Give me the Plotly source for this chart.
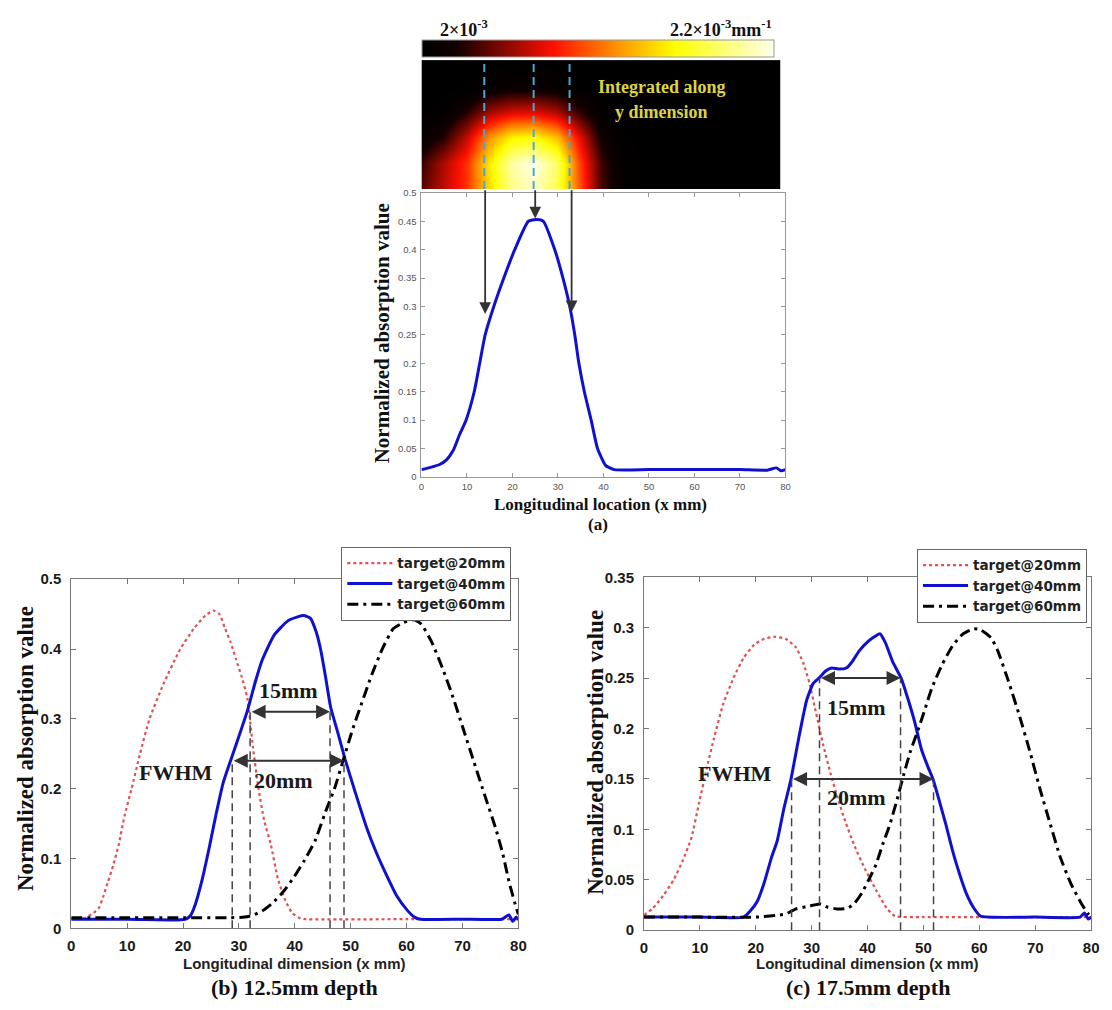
import plotly.graph_objects as go

W, H = 1112, 1010


def px_x(p):
    return p / W


def px_y(p):
    return 1 - p / H


# ---------------- data ----------------
# panel (a): heat map of absorption (normalised), x in mm, y = relative height
heat_x = [0, 5, 10, 15, 20, 25, 30, 35, 40, 45, 50, 55, 60, 65, 70, 75, 80]
heat_y = [0, 0.2, 0.4, 0.6, 0.8, 1.0]
heat_z = [
    [0.18, 0.3, 0.42, 0.66, 0.88, 0.95, 0.82, 0.48, 0.16, 0.03, 0, 0, 0, 0, 0, 0, 0],
    [0.14, 0.28, 0.42, 0.68, 0.92, 1.0, 0.85, 0.46, 0.15, 0.03, 0, 0, 0, 0, 0, 0, 0],
    [0.04, 0.12, 0.3, 0.55, 0.7, 0.72, 0.62, 0.36, 0.08, 0.01, 0, 0, 0, 0, 0, 0, 0],
    [0, 0.02, 0.12, 0.26, 0.33, 0.34, 0.28, 0.14, 0.02, 0, 0, 0, 0, 0, 0, 0, 0],
    [0, 0, 0, 0.03, 0.05, 0.05, 0.03, 0, 0, 0, 0, 0, 0, 0, 0, 0, 0],
    [0, 0, 0, 0, 0, 0, 0, 0, 0, 0, 0, 0, 0, 0, 0, 0, 0],
]
probe_x = [14, 25, 33]
probe_tip_y = [0.287, 0.455, 0.29]

a_x = [0, 2, 4, 5.5, 7, 8.3, 9.8, 11.6, 12.8, 14.0, 15.9, 18.1, 20.5, 23.5, 25.3, 26.8,
       29.3, 31.1, 32.6, 33.7, 34.6, 35.8, 37.3, 38.7, 40.5, 42.4, 50, 60, 70, 76, 78, 79, 80]
a_y = [0.013, 0.017, 0.022, 0.03, 0.047, 0.073, 0.1, 0.15, 0.2, 0.25, 0.3, 0.35, 0.4, 0.45, 0.453, 0.45,
       0.4, 0.35, 0.3, 0.25, 0.2, 0.15, 0.1, 0.05, 0.02, 0.013, 0.013, 0.013, 0.013, 0.012, 0.016, 0.011, 0.013]

# panel (b): 12.5 mm depth
b20_x = [0, 2.5, 4, 5, 5.7, 6.5, 7.5, 8.5, 9.5, 10.8, 12.3, 14, 16.5, 19.5, 22, 24, 25.5,
         26.5, 27.5, 28.5, 29.5, 30.5, 31.5, 32.5, 33.5, 34.5, 35.7, 37, 38.3, 39.5, 41, 42, 60, 80]
b20_y = [0.013, 0.015, 0.022, 0.03, 0.045, 0.065, 0.09, 0.12, 0.16, 0.2, 0.25, 0.3, 0.35, 0.4, 0.43, 0.448, 0.455,
         0.45, 0.43, 0.41, 0.385, 0.36, 0.33, 0.26, 0.2, 0.155, 0.12, 0.07, 0.04, 0.022, 0.014, 0.013, 0.013, 0.013]

b40_x = [0, 10, 19, 20.5, 21.3, 22.1, 23.4, 24.7, 25.9, 27.2, 28.5, 30, 31.6, 33, 34.2, 36.3, 38.7, 40.5,
         41.6, 42.8, 43.8, 44.6, 45.5, 46.4, 47.7, 49, 50.8, 52.9, 54.5, 56.3, 58.2, 60.1, 61.4, 62.5,
         70, 77, 78.3, 79, 79.6, 80]
b40_y = [0.013, 0.013, 0.012, 0.013, 0.018, 0.032, 0.069, 0.116, 0.163, 0.209, 0.24, 0.275, 0.314, 0.355, 0.385, 0.42, 0.44, 0.446,
         0.448, 0.444, 0.425, 0.4, 0.36, 0.317, 0.28, 0.242, 0.195, 0.143, 0.11, 0.078, 0.047, 0.026, 0.016, 0.013,
         0.013, 0.013, 0.019, 0.01, 0.016, 0.012]

b60_x = [0, 10, 20, 28, 31, 32.3, 34.2, 36, 38, 39.9, 41.7, 43.6, 45.5, 47.1, 48.7, 50.3, 51.9, 53.8, 55.7,
         57.6, 59.5, 61.4, 62.6, 64.5, 66.4, 68.3, 70.2, 72.1, 74, 75.9, 77.2, 78.4, 79.7, 80]
b60_y = [0.015, 0.015, 0.015, 0.015, 0.016, 0.018, 0.025, 0.036, 0.053, 0.074, 0.097, 0.125, 0.167, 0.2, 0.242, 0.284, 0.321, 0.364, 0.401,
         0.429, 0.438, 0.442, 0.436, 0.41, 0.373, 0.331, 0.284, 0.237, 0.19, 0.144, 0.107, 0.064, 0.027, 0.02]

b_fwhm_x = [28.8, 48.8]
b_fwhm_y = 0.24
b_15_x = [32.0, 46.3]
b_15_y = 0.31

# panel (c): 17.5 mm depth
c20_x = [0, 1.6, 3.4, 5.3, 7, 8.5, 9.8, 11.2, 12.5, 14.2, 16, 17.8, 19.7, 21.5, 23.4, 25.3, 27.1, 28.5,
         29.6, 30.8, 32, 33.4, 34.6, 36, 37.7, 39.6, 41.5, 43.4, 44.9, 50, 60, 70, 80]
c20_y = [0.015, 0.022, 0.034, 0.05, 0.07, 0.092, 0.125, 0.16, 0.19, 0.225, 0.25, 0.27, 0.283, 0.289, 0.291, 0.289, 0.281, 0.265,
         0.245, 0.215, 0.185, 0.155, 0.132, 0.108, 0.083, 0.06, 0.04, 0.022, 0.014, 0.013, 0.013, 0.013, 0.013]

c40_x = [0, 10, 17.8, 19, 20.3, 21.5, 22.8, 23.8, 25, 26.3, 27.7, 29.1, 30.3, 31.3, 32.5, 33.6, 34.8, 36.2,
         37.2, 38.5, 40, 41.2, 42.2, 43.2, 44.5, 46, 47.3, 48.5, 49.6, 50.8, 51.7, 52.7, 54, 55.2, 56.5,
         57.7, 59, 60.2, 70, 78, 78.8, 79.5, 80]
c40_y = [0.013, 0.013, 0.013, 0.019, 0.029, 0.047, 0.072, 0.088, 0.12, 0.15, 0.191, 0.228, 0.245, 0.25, 0.257, 0.26, 0.259, 0.26,
         0.266, 0.277, 0.286, 0.291, 0.294, 0.285, 0.266, 0.25, 0.228, 0.205, 0.18, 0.162, 0.15, 0.131, 0.105, 0.079, 0.055,
         0.036, 0.022, 0.014, 0.013, 0.013, 0.017, 0.011, 0.013]

c60_x = [0, 10, 20, 25.3, 27.1, 29.6, 31.5, 32.8, 34.6, 36.5, 37.7, 39, 40.2, 41.5, 42.7, 44, 45.2, 46.5, 47.7,
         49, 50.2, 51.5, 53.3, 55.2, 57.1, 59, 60.2, 62.1, 63.3, 65.2, 67.1, 69, 70.8, 72.7, 74.5, 76.4, 78.3, 79.5, 80]
c60_y = [0.013, 0.013, 0.013, 0.016, 0.021, 0.024, 0.026, 0.023, 0.021, 0.022, 0.027, 0.037, 0.05, 0.065, 0.085, 0.105, 0.128, 0.155, 0.178,
         0.198, 0.218, 0.24, 0.263, 0.282, 0.294, 0.299, 0.298, 0.29, 0.277, 0.247, 0.214, 0.178, 0.141, 0.105, 0.072, 0.046, 0.026, 0.016, 0.013]

c_fwhm_x = [26.4, 51.8]
c_fwhm_y = 0.15
c_15_x = [31.4, 45.9]
c_15_y = 0.25

series_names = ["target@20mm", "target@40mm", "target@60mm"]

# ---------------- styles ----------------
SERIF = "Liberation Serif, Times New Roman, serif"
SANS = "Liberation Sans, Arial, sans-serif"
RED = "#e05050"
BLUE = "#1010d0"
hot = [[0, "#000000"], [0.1, "#120000"], [0.375, "#ff1000"], [0.55, "#ff9000"],
       [0.72, "#ffff00"], [1, "#ffffea"]]

fig = go.Figure()

# heatmap (a)
fig.add_trace(go.Heatmap(
    x=heat_x, y=heat_y, z=heat_z, zmin=0, zmax=1, zsmooth="best", colorscale=hot,
    xaxis="x2", yaxis="y2", hoverinfo="skip",
    colorbar=dict(orientation="h", x=px_x(423), xanchor="left", y=px_y(32), yanchor="top",
                  yref="paper", len=352, lenmode="pixels", thickness=17, thicknessmode="pixels",
                  xpad=0, ypad=0, outlinewidth=1, outlinecolor="#999", showticklabels=False,
                  ticks="")))

SPL = dict(shape="spline", smoothing=0.5)

# (a) line
fig.add_trace(go.Scatter(x=a_x, y=a_y, mode="lines", line=dict(color=BLUE, width=3, **SPL),
                         xaxis="x", yaxis="y", showlegend=False))

line_styles = [dict(color=RED, width=2.2, dash="dot", **SPL),
               dict(color=BLUE, width=3, **SPL),
               dict(color="#000000", width=3, dash="11px,5px,3px,5px", **SPL)]

for nm, xs, ys, st in zip(series_names, [b20_x, b40_x, b60_x], [b20_y, b40_y, b60_y], line_styles):
    fig.add_trace(go.Scatter(x=xs, y=ys, mode="lines", name=nm, line=st,
                             xaxis="x3", yaxis="y3", legend="legend"))
for nm, xs, ys, st in zip(series_names, [c20_x, c40_x, c60_x], [c20_y, c40_y, c60_y], line_styles):
    fig.add_trace(go.Scatter(x=xs, y=ys, mode="lines", name=nm, line=st,
                             xaxis="x4", yaxis="y4", legend="legend2"))


def axis(dom, rng, dtick, anchor, font, lc="#777", ticklen=5, standoff=2):
    return dict(domain=dom, range=rng, dtick=dtick, tick0=0, anchor=anchor, showgrid=False,
                zeroline=False, showline=True, mirror="allticks", linecolor=lc, linewidth=1,
                ticks="inside", ticklen=ticklen, tickcolor=lc, tickfont=font, fixedrange=True,
                ticklabelstandoff=standoff)


font_a = dict(family=SANS, size=9.5, color="#555")
font_bc = dict(family=SANS, size=15, color="#1a1a1a", weight="bold")

layout_axes = dict(
    xaxis=axis([px_x(422), px_x(790)], [0, 80], 10, "y", font_a, "#999", 4, 1),
    yaxis=axis([px_y(476), px_y(187)], [0, 0.5], 0.05, "x", font_a, "#999", 4, 2),
    xaxis2=dict(domain=[px_x(422), px_x(785)], range=[0, 80], visible=False, anchor="y2", fixedrange=True),
    yaxis2=dict(domain=[px_y(183), px_y(52)], range=[0, 1], visible=False, anchor="x2", fixedrange=True),
    xaxis3=axis([px_x(68), px_x(520)], [0, 80], 10, "y3", font_bc, standoff=4),
    yaxis3=axis([px_y(935), px_y(580)], [0, 0.5], 0.1, "x3", font_bc, standoff=6),
    xaxis4=axis([px_x(647), px_x(1099)], [0, 80], 10, "y4", font_bc, standoff=4),
    yaxis4=axis([px_y(937), px_y(578)], [0, 0.35], 0.05, "x4", font_bc, standoff=6),
)

shapes = []
# probe lines in heat map
for px_ in probe_x:
    shapes.append(dict(type="line", xref="x2", yref="y2", x0=px_, x1=px_, y0=0, y1=1,
                       line=dict(color="#48a8d0", width=2, dash="8px,5px")))

annotations = []
# probe arrows in (a)
for px_, ty in zip(probe_x, probe_tip_y):
    annotations.append(dict(x=px_, y=ty, ax=px_, ay=0.507, xref="x", yref="y", axref="x", ayref="y",
                            text="", showarrow=True, arrowhead=2, arrowsize=1.3, arrowwidth=1.8,
                            arrowcolor="#333"))


def fwhm(xr, yr, fw_x, fw_y, q_x, q_y, txt15, txt20, txtF):
    for xv, yv in [(fw_x[0], fw_y), (q_x[0], q_y), (q_x[1], q_y), (fw_x[1], fw_y)]:
        shapes.append(dict(type="line", xref=xr, yref=yr, x0=xv, x1=xv, y0=0, y1=yv,
                           line=dict(color="#444", width=1.5, dash="8px,5px")))
    for xs, yv in [(fw_x, fw_y), (q_x, q_y)]:
        annotations.append(dict(x=xs[1], y=yv, ax=xs[0], ay=yv, xref=xr, yref=yr, axref=xr, ayref=yr,
                                text="", showarrow=True, arrowside="end+start", arrowhead=2,
                                startarrowhead=2, arrowsize=1.4, startarrowsize=1.4, arrowwidth=2,
                                arrowcolor="#333"))
    lab = dict(family=SERIF, size=22, color="#1a1a1a", weight="bold")
    annotations.append(dict(x=txt15[0], y=txt15[1], xref=xr, yref=yr, text="15mm", showarrow=False, font=lab))
    annotations.append(dict(x=txt20[0], y=txt20[1], xref=xr, yref=yr, text="20mm", showarrow=False, font=lab))
    annotations.append(dict(x=txtF[0], y=txtF[1], xref=xr, yref=yr, text="FWHM", showarrow=False, font=lab))


fwhm("x3", "y3", b_fwhm_x, b_fwhm_y, b_15_x, b_15_y, (38.9, 0.34), (37.9, 0.212), (18.7, 0.223))
fwhm("x4", "y4", c_fwhm_x, c_fwhm_y, c_15_x, c_15_y, (38.0, 0.221), (38.0, 0.132), (16.2, 0.155))


def paper_text(x, y, text, font, angle=0, xanchor="center"):
    annotations.append(dict(x=px_x(x), y=px_y(y), xref="paper", yref="paper", text=text, showarrow=False,
                            font=font, textangle=angle, xanchor=xanchor, yanchor="middle"))


def serif_b(s):
    return dict(family=SERIF, size=s, color="#111", weight="bold")


paper_text(465, 20, "2×10<sup>-3</sup>", serif_b(18))
paper_text(778, 20, "2.2×10<sup>-3</sup>mm<sup>-1</sup>", serif_b(18), xanchor="right")
annotations.append(dict(x=53.5, y=0.79, xref="x2", yref="y2", text="Integrated along", showarrow=False,
                        font=dict(family=SERIF, size=18, color="#dcd444", weight="bold")))
annotations.append(dict(x=53.5, y=0.6, xref="x2", yref="y2", text="y dimension", showarrow=False,
                        font=dict(family=SERIF, size=18, color="#dcd444", weight="bold")))

paper_text(383, 330, "Normalized absorption value", serif_b(21), angle=-90)
paper_text(603, 504, "Longitudinal location (x mm)", serif_b(17))
paper_text(600, 524, "(a)", serif_b(17))

paper_text(22, 752, "Normalized absorption value", serif_b(23), angle=-90)
paper_text(294, 971, "Longitudinal dimension (x mm)", dict(family=SANS, size=15, color="#222", weight="bold"))
paper_text(294, 995, "(b) 12.5mm depth", serif_b(22))

paper_text(598, 756, "Normalized absorption value", serif_b(23), angle=-90)
paper_text(873, 971, "Longitudinal dimension (x mm)", dict(family=SANS, size=15, color="#222", weight="bold"))
paper_text(873, 995, "(c) 17.5mm depth", serif_b(22))

leg_common = dict(xanchor="left", yanchor="top", bgcolor="white", bordercolor="#666", borderwidth=1,
                  font=dict(family="DejaVu Sans, Liberation Sans, sans-serif", size=13.5, color="#222",
                            weight="bold"),
                  itemwidth=45, tracegroupgap=0)

fig.update_layout(
    width=W, height=H, margin=dict(l=0, r=0, t=0, b=0), autosize=False,
    paper_bgcolor="white", plot_bgcolor="white", showlegend=True,
    legend=dict(x=px_x(341), y=px_y(547), **leg_common),
    legend2=dict(x=px_x(923), y=px_y(549), **leg_common),
    shapes=shapes, annotations=annotations, **layout_axes)

fig.write_html("out.html")
